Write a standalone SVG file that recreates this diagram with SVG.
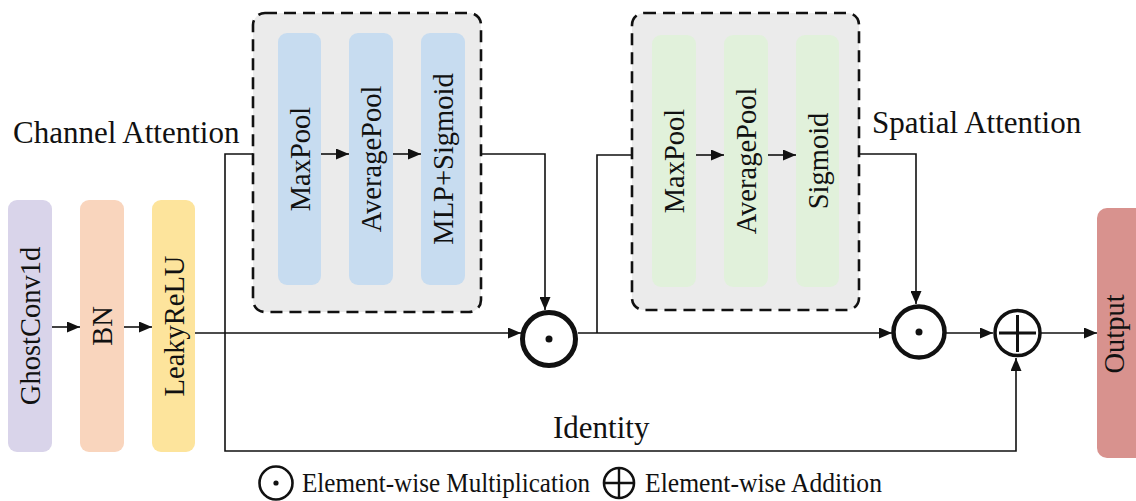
<svg xmlns="http://www.w3.org/2000/svg" width="1136" height="501" viewBox="0 0 1136 501">
<style>
text{font-family:'Liberation Serif','Tinos','Times New Roman','Noto Serif','DejaVu Serif',serif;fill:#111}
.bl{font-size:28.5px;text-anchor:middle}
.lbl{font-size:31px}
.leg{font-size:28px}
.ln{fill:none;stroke:#111;stroke-width:1.6}
.dash{fill:#ebebeb;stroke:#111;stroke-width:2.6;stroke-dasharray:12 7}
.op{fill:#fff;stroke:#111}
</style>
<defs>
<marker id="ah" viewBox="0 0 13 11" refX="13" refY="5.5" markerWidth="13" markerHeight="11" markerUnits="userSpaceOnUse" orient="auto">
<path d="M0,0 L13,5.5 L0,11 Z" fill="#111"/>
</marker>
</defs>

<g id="dashed-boxes">
<rect id="channel-box" class="dash" x="253" y="13" width="228" height="299" rx="12"/>
<rect id="spatial-box" class="dash" x="632" y="13" width="227" height="297" rx="12"/>
</g>

<g id="connectors">
<line class="ln" x1="52" y1="327" x2="80" y2="327" marker-end="url(#ah)"/>
<line class="ln" x1="124" y1="327" x2="152" y2="327" marker-end="url(#ah)"/>
<line class="ln" x1="195" y1="333" x2="521" y2="333" marker-end="url(#ah)"/>
<polyline class="ln" points="253,154 225,154 225,451 1016,451 1016,358" marker-end="url(#ah)"/>
<line class="ln" x1="321" y1="154" x2="349" y2="154" marker-end="url(#ah)"/>
<line class="ln" x1="393" y1="154" x2="421" y2="154" marker-end="url(#ah)"/>
<polyline class="ln" points="481,154 545,154 545,310" marker-end="url(#ah)"/>
<line class="ln" x1="578" y1="333" x2="892" y2="333" marker-end="url(#ah)"/>
<polyline class="ln" points="597,333 597,155 632,155"/>
<line class="ln" x1="696" y1="155" x2="724" y2="155" marker-end="url(#ah)"/>
<line class="ln" x1="768" y1="155" x2="796" y2="155" marker-end="url(#ah)"/>
<polyline class="ln" points="859,154 916,154 916,304" marker-end="url(#ah)"/>
<line class="ln" x1="946" y1="333" x2="993" y2="333" marker-end="url(#ah)"/>
<line class="ln" x1="1041" y1="333" x2="1097" y2="333" marker-end="url(#ah)"/>
</g>

<g id="ghostconv1d">
<rect x="8" y="200" width="44" height="252" rx="9" fill="#d9d4ea"/>
<text class="bl" transform="translate(40,326) rotate(-90)">GhostConv1d</text>
</g>
<g id="bn">
<rect x="80" y="200" width="44" height="252" rx="9" fill="#f9d5bd"/>
<text class="bl" transform="translate(112,326) rotate(-90)">BN</text>
</g>
<g id="leakyrelu">
<rect x="152" y="200" width="43" height="252" rx="9" fill="#fde49c"/>
<text class="bl" transform="translate(183.5,326) rotate(-90)">LeakyReLU</text>
</g>

<g id="ca-maxpool">
<rect x="278" y="33" width="43" height="252" rx="9" fill="#c7dcf0"/>
<text class="bl" transform="translate(309.5,159) rotate(-90)">MaxPool</text>
</g>
<g id="ca-averagepool">
<rect x="349" y="33" width="44" height="252" rx="9" fill="#c7dcf0"/>
<text class="bl" transform="translate(381,159) rotate(-90)">AveragePool</text>
</g>
<g id="ca-mlp-sigmoid">
<rect x="421" y="33" width="44" height="252" rx="9" fill="#c7dcf0"/>
<text class="bl" transform="translate(453,159) rotate(-90)">MLP+Sigmoid</text>
</g>

<g id="sa-maxpool">
<rect x="652" y="35" width="44" height="252" rx="9" fill="#e1f1db"/>
<text class="bl" transform="translate(684,161) rotate(-90)">MaxPool</text>
</g>
<g id="sa-averagepool">
<rect x="724" y="35" width="44" height="252" rx="9" fill="#e1f1db"/>
<text class="bl" transform="translate(756,161) rotate(-90)">AveragePool</text>
</g>
<g id="sa-sigmoid">
<rect x="796" y="35" width="43" height="252" rx="9" fill="#e1f1db"/>
<text class="bl" transform="translate(827.5,161) rotate(-90)">Sigmoid</text>
</g>

<g id="output">
<rect x="1097" y="208" width="52" height="250" rx="10" fill="#d8928e"/>
<text class="bl" transform="translate(1124,334) rotate(-90)">Output</text>
</g>

<g id="mult1">
<circle class="op" cx="549" cy="339" r="26.5" stroke-width="5"/>
<circle cx="549" cy="339" r="3.5" fill="#111"/>
</g>
<g id="mult2">
<circle class="op" cx="919" cy="332" r="25.5" stroke-width="4.5"/>
<circle cx="919" cy="332" r="3.5" fill="#111"/>
</g>
<g id="add">
<circle class="op" cx="1017.5" cy="333" r="22.5" stroke-width="3.5"/>
<path d="M999,333 H1036 M1017.5,315 V352" stroke="#111" stroke-width="3" fill="none"/>
</g>

<g id="labels">
<text class="lbl" x="13" y="143">Channel Attention</text>
<text class="lbl" x="872" y="133">Spatial Attention</text>
<text class="lbl" x="553" y="438">Identity</text>
</g>

<g id="legend">
<circle class="op" cx="276" cy="483" r="16.5" stroke-width="2.6"/>
<circle cx="276" cy="483" r="2.6" fill="#111"/>
<text class="leg" x="302" y="492" textLength="288" lengthAdjust="spacingAndGlyphs">Element-wise Multiplication</text>
<circle class="op" cx="619" cy="483" r="15" stroke-width="2.6"/>
<path d="M604,483 H634 M619,468 V498" stroke="#111" stroke-width="2.4" fill="none"/>
<text class="leg" x="645" y="492" textLength="237" lengthAdjust="spacingAndGlyphs">Element-wise Addition</text>
</g>
</svg>
